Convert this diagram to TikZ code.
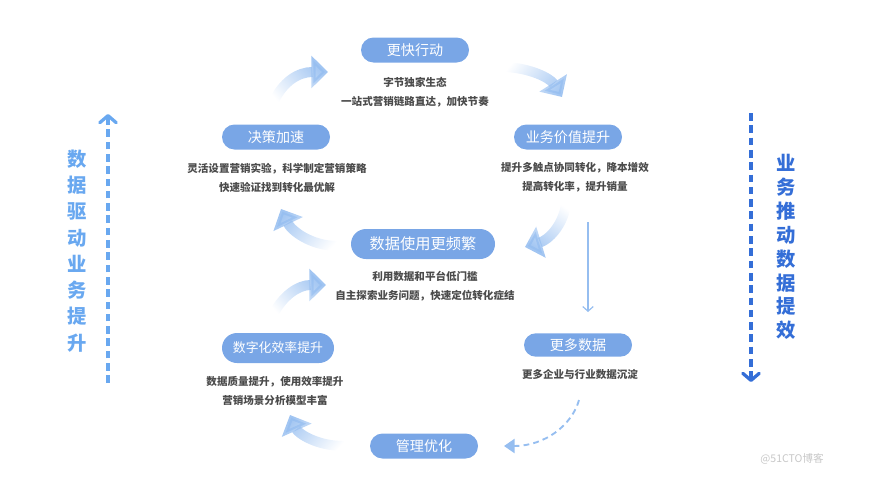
\documentclass[tikz,border=0pt]{standalone}
\usepackage{fontspec}
\newfontfamily\cjk{Noto Sans CJK SC}
\usetikzlibrary{arrows.meta, positioning, fadings}

\definecolor{pillblue}{RGB}{121,166,230}
\definecolor{flowblue}{RGB}{150,190,240}
\definecolor{notegray}{RGB}{75,75,75}
\definecolor{leftblue}{RGB}{105,168,240}
\definecolor{rightblue}{RGB}{52,110,215}

\tikzfading[name=tail fade, left color=transparent!100, right color=transparent!10]

\begin{document}
\begin{tikzpicture}
				[x=0.03cm, y=-0.03cm,
				pill/.style={fill=pillblue, text=white, rounded corners=0.375cm, minimum width=3.24cm, minimum height=0.75cm, inner sep=0pt, font=\cjk\fontsize{12}{14}\selectfont},
				note/.style={align=center, text=notegray, inner sep=0pt, font=\cjk\bfseries\fontsize{9}{16.2}\selectfont},
				flow/.style={draw=flowblue, line width=0.3cm, -{Triangle[length=0.5cm, width=0.95cm]}, path fading=tail fade},
				side/.style={align=center, inner sep=0pt, font=\cjk\bfseries\fontsize{16.5}{22.4}\selectfont},
				axis/.style={line width=2.8pt, dash pattern=on 6.5pt off 4pt, -{Straight Barb[length=6pt, width=14pt, line cap=round, line join=round]}}]
				\useasboundingbox (0,0) rectangle (874,502);
				% stages of the loop
				\node [pill]  			(faster)			at (415,50)		{更快行动};
				\node [pill]  			(decide)			at (276,137)	{决策加速};
				\node [pill]  			(value up)			at (568,137)	{业务价值提升};
				\node [pill, minimum width=4.32cm, minimum height=0.9cm, rounded corners=0.45cm, font=\cjk\fontsize{13}{15}\selectfont]
										(data use)			at (423,244)	{数据使用更频繁};
				\node [pill, minimum width=3.36cm, minimum height=0.9cm, rounded corners=0.45cm, font=\cjk\fontsize{11}{13}\selectfont]
										(digital)			at (278,348)	{数字化效率提升};
				\node [pill, minimum height=0.7cm, rounded corners=0.35cm]
										(more data)			at (578,345)	{更多数据};
				\node [pill]  			(manage)			at (424,446)	{管理优化};
				% notes
				\node [note]			(faster note)		at (415,92.5)	{字节独家生态\\一站式营销链路直达，加快节奏};
				\node [note]			(decide note)		at (277,177.5)	{灵活设置营销实验，科学制定营销策略\\快速验证找到转化最优解};
				\node [note]			(value note)		at (575,177.5)	{提升多触点协同转化，降本增效\\提高转化率，提升销量};
				\node [note]			(data note)			at (425,286.5)	{利用数据和平台低门槛\\自主探索业务问题，快速定位转化症结};
				\node [note]			(digital note)		at (275,391)	{数据质量提升，使用效率提升\\营销场景分析模型丰富};
				\node [note]			(more note)			at (580,374)	{更多企业与行业数据沉淀};
				% side labels
				\node [side, text=leftblue]		(drive)		at (77,251)		{数\\据\\驱\\动\\业\\务\\提\\升};
				\node [side, text=rightblue, font=\cjk\bfseries\fontsize{16.5}{20.4}\selectfont]
										(push)				at (786,247)	{业\\务\\推\\动\\数\\据\\提\\效};
				\coordinate (drive low) at (108,383);
				\coordinate (drive top) at (108,114);
				\coordinate (push top) at (751,113);
				\coordinate (push low) at (751,382);
				\draw [axis, leftblue]  (drive low) -- (drive top);
				\draw [axis, rightblue] (push top) -- (push low);
				% loop arrows
				\coordinate (t1) at (274,101);	\coordinate (h1) at (328,72);
				\coordinate (t2) at (505,67);	\coordinate (h2) at (562,97);
				\coordinate (t3) at (566,204);	\coordinate (h3) at (525,247);
				\coordinate (t4) at (338,246);	\coordinate (h4) at (281,209);
				\coordinate (t5) at (274,313);	\coordinate (h5) at (326,285);
				\coordinate (t6) at (344,446);	\coordinate (h6) at (290,415);
				\draw [flow, fading angle=28]   (t1) .. controls (283,82) and (298,72) .. (h1);
				\draw [flow, fading angle=-26]  (t2) .. controls (530,68) and (550,78) .. (h2);
				\draw [flow, fading angle=-125] (t3) .. controls (563,226) and (548,240) .. (h3);
				\draw [flow, fading angle=148]  (t4) .. controls (310,246) and (291,230) .. (h4);
				\draw [flow, fading angle=28]   (t5) .. controls (283,296) and (298,285) .. (h5);
				\draw [flow, fading angle=150]  (t6) .. controls (316,446) and (298,433) .. (h6);
				% thin and dashed links
				\coordinate (drop top) at (588,222);
				\coordinate (drop low) at (588,312);
				\draw [flowblue, line width=1pt, -{Straight Barb[length=4pt, width=9pt]}] (drop top) -- (drop low);
				\coordinate (seep top) at (579,400);
				\coordinate (seep end) at (504,446);
				\draw [flowblue, line width=1.6pt, dash pattern=on 5pt off 3.5pt, -{Triangle[length=9pt, width=12pt]}]
										(seep top) .. controls (572,425) and (545,446) .. (seep end);
				\node [text=black!22, font=\cjk\fontsize{9}{11}\selectfont] (mark) at (792,459) {@51CTO博客};
			\end{tikzpicture}
\end{document}
